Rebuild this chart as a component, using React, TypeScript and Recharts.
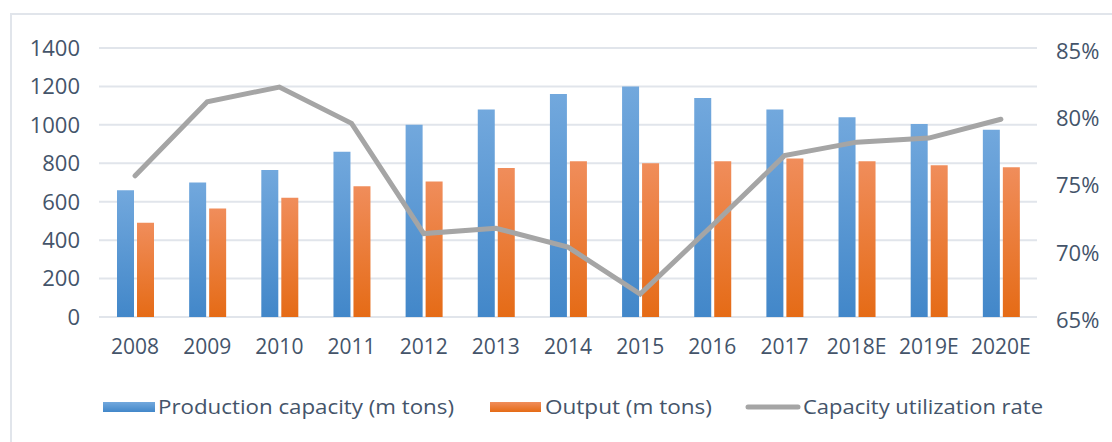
import {
  ComposedChart,
  Bar,
  Line,
  XAxis,
  YAxis,
  CartesianGrid,
} from "recharts";

const years = [
  "2008", "2009", "2010", "2011", "2012", "2013", "2014",
  "2015", "2016", "2017", "2018E", "2019E", "2020E",
];
const capacity = [660, 700, 765, 860, 1000, 1080, 1160, 1200, 1140, 1080, 1040, 1005, 975];
const output = [490, 565, 620, 680, 705, 775, 810, 800, 810, 825, 810, 790, 780];
const utilization = [75.5, 81.0, 82.1, 79.4, 71.2, 71.6, 70.2, 66.7, 71.8, 77.0, 78.0, 78.3, 79.7];
const leftTicks = [0, 200, 400, 600, 800, 1000, 1200, 1400];
const rightTicks = [65, 70, 75, 80, 85];

const data = years.map((year, i) => ({
  year,
  capacity: capacity[i],
  output: output[i],
  rate: utilization[i],
}));

const FONT = "'Open Sans', 'Noto Sans', sans-serif";
const TEXT = "#44546A";
const GRID = "#E1E5EB";

// legend drawn by hand so the spacing follows the reference
const LegendBox = () => (
  <svg
    width={1112}
    height={40}
    style={{ position: "absolute", left: 0, top: 390, display: "block" }}
  >
    <defs>
      <linearGradient id="blueLeg" x1="0" y1="0" x2="0" y2="1">
        <stop offset="0%" stopColor="#72A8DD" />
        <stop offset="100%" stopColor="#4287C9" />
      </linearGradient>
      <linearGradient id="orangeLeg" x1="0" y1="0" x2="0" y2="1">
        <stop offset="0%" stopColor="#F08D5B" />
        <stop offset="100%" stopColor="#E56B16" />
      </linearGradient>
    </defs>
    <rect x={103} y={12} width={52} height={10} fill="url(#blueLeg)" />
    <text x={158} y={24} fontSize={20} fill={TEXT} fontFamily={FONT} textLength={296} lengthAdjust="spacingAndGlyphs">
      Production capacity (m tons)
    </text>
    <rect x={490} y={12} width={51} height={10} fill="url(#orangeLeg)" />
    <text x={545} y={24} fontSize={20} fill={TEXT} fontFamily={FONT} textLength={167} lengthAdjust="spacingAndGlyphs">
      Output (m tons)
    </text>
    <line x1={748} y1={17} x2={798} y2={17} stroke="#A5A5A5" strokeWidth={5} strokeLinecap="round" />
    <text x={803} y={24} fontSize={20} fill={TEXT} fontFamily={FONT} textLength={240} lengthAdjust="spacingAndGlyphs">
      Capacity utilization rate
    </text>
  </svg>
);

export default function App() {
  return (
    <div
      style={{
        position: "absolute",
        left: 0,
        top: 0,
        width: 1112,
        height: 442,
        overflow: "hidden",
        background: "#fff",
      }}
    >
      {/* outer frame, right and bottom edges fall outside the picture */}
      <div
        style={{
          position: "absolute",
          left: 10,
          top: 13,
          width: 1200,
          height: 500,
          border: `2px solid ${GRID}`,
        }}
      />
      <ComposedChart
        width={1112}
        height={442}
        data={data}
        margin={{ top: 48, right: 0, bottom: 95, left: 0 }}
        barGap={3}
        style={{ position: "absolute", left: 0, top: 0 }}
      >
        <defs>
          <linearGradient id="blueGrad" x1="0" y1="0" x2="0" y2="1">
            <stop offset="0%" stopColor="#72A8DD" />
            <stop offset="100%" stopColor="#4287C9" />
          </linearGradient>
          <linearGradient id="orangeGrad" x1="0" y1="0" x2="0" y2="1">
            <stop offset="0%" stopColor="#F08D5B" />
            <stop offset="100%" stopColor="#E56B16" />
          </linearGradient>
        </defs>
        <CartesianGrid
          yAxisId="left"
          vertical={false}
          stroke={GRID}
          strokeWidth={2}
        />
        <XAxis
          dataKey="year"
          height={30}
          axisLine={false}
          tickLine={false}
          tickMargin={16}
          interval={0}
          tick={{ fill: TEXT, fontSize: 21, fontFamily: FONT }}
        />
        <YAxis
          yAxisId="left"
          width={99}
          domain={[0, 1400]}
          ticks={leftTicks}
          axisLine={false}
          tickLine={false}
          tickMargin={13}
          tick={{ fill: TEXT, fontSize: 22, fontFamily: FONT }}
        />
        <YAxis
          yAxisId="right"
          orientation="right"
          width={75}
          domain={[65, 85]}
          ticks={rightTicks}
          axisLine={false}
          tickLine={false}
          tickMargin={13}
          tickFormatter={(v) => `${v}%`}
          tick={{ fill: TEXT, fontSize: 22, fontFamily: FONT, dy: 3 }}
        />
        <Bar
          yAxisId="left"
          dataKey="capacity"
          name="Production capacity (m tons)"
          barSize={17}
          fill="url(#blueGrad)"
          isAnimationActive={false}
        />
        <Bar
          yAxisId="left"
          dataKey="output"
          name="Output (m tons)"
          barSize={17}
          fill="url(#orangeGrad)"
          isAnimationActive={false}
        />
        <Line
          yAxisId="right"
          dataKey="rate"
          name="Capacity utilization rate"
          stroke="#A5A5A5"
          strokeWidth={5}
          strokeLinecap="round"
          dot={false}
          activeDot={false}
          isAnimationActive={false}
        />
      </ComposedChart>
      <LegendBox />
    </div>
  );
}
